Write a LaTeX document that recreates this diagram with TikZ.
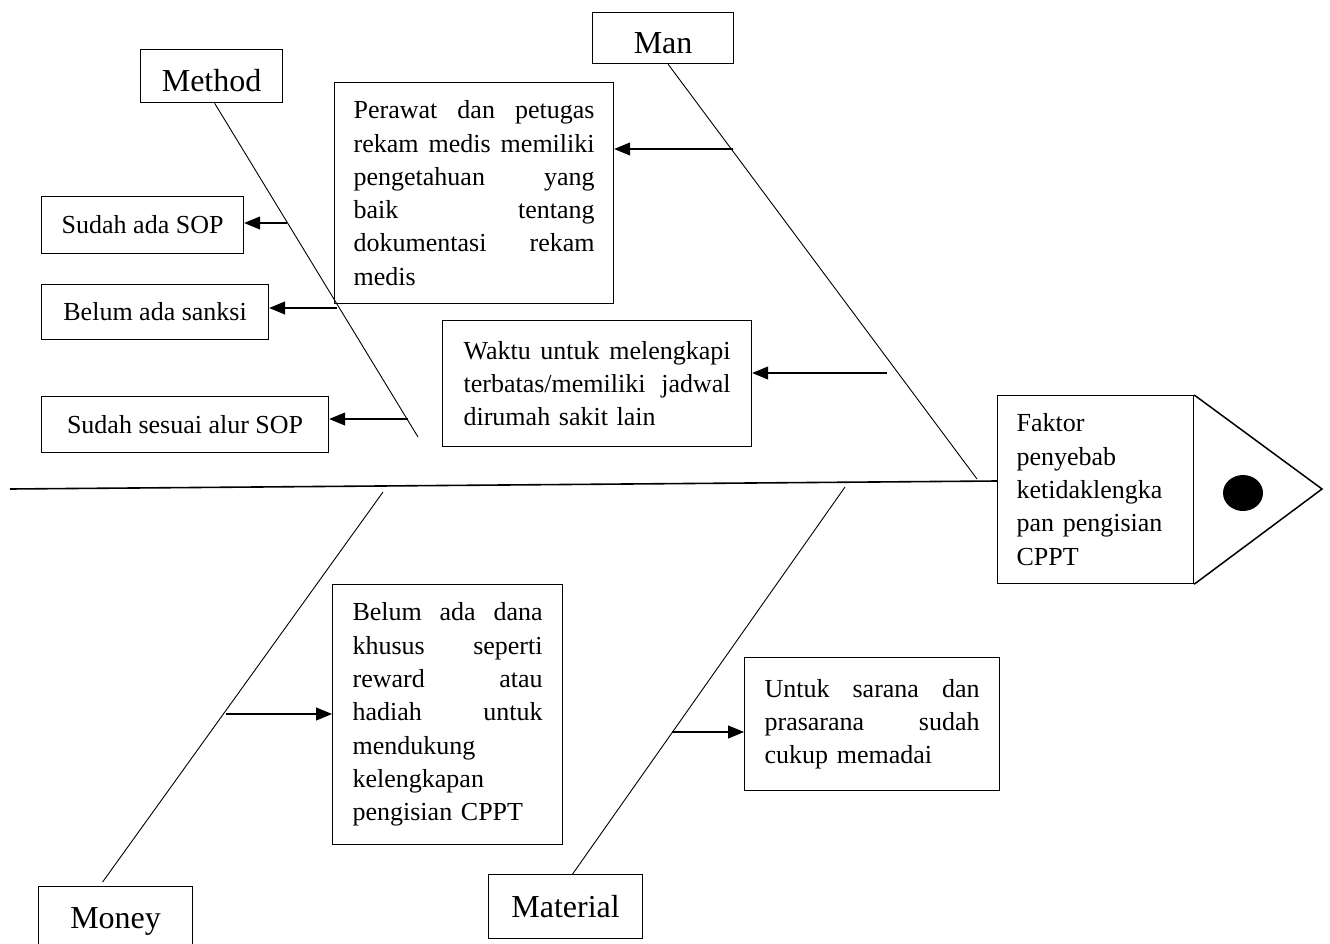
\documentclass[tikz,border=0pt]{standalone}
\usepackage{fontspec}
\setmainfont{Liberation Serif}
\usetikzlibrary{arrows.meta}

% one justified line inside a box
\newlength{\jw}
\newcommand{\jl}[1]{\leavevmode\hbox to \jw{#1}}

\begin{document}
\begin{tikzpicture}[x=1pt,y=-1pt,
	box/.style={draw,line width=1.2pt,anchor=north west,inner ysep=0pt,font=\fontsize{26}{33.3}\selectfont},
	head/.style={box,font=\fontsize{32}{38}\selectfont},
	just/.style={text width=#1,align=left,execute at begin node={\setlength{\jw}{#1}}},
	bone/.style={line width=0.9pt},
	cause/.style={line width=1.1pt,-{Triangle[length=16pt,width=13pt]}}]
	\useasboundingbox (0,0) rectangle (1330,944);

	% Heads of the bones
	\node[head,minimum width=141pt,minimum height=51pt,text height=31pt,text depth=0pt] (man) at (592,12) {Man};
	\node[head,minimum width=142pt,minimum height=53pt,text height=30pt,text depth=0pt] (method) at (140,49) {Method};
	\node[head,minimum width=154pt,minimum height=70pt] (money) at (38,886) {Money};
	\node[head,minimum width=154pt,minimum height=64pt] (material) at (488,874) {Material};

	% Effect
	\node[box,minimum width=196pt,minimum height=188pt,inner xsep=19pt,text width=158pt,align=left] (faktor) at (997,395)
		{Faktor\\ penyebab\\ ketidaklengka\\ pan pengisian\\ CPPT};
	\coordinate (tip) at (1322,489);
	\draw[line width=1.5pt] (faktor.north east) -- (tip) -- (faktor.south east);
	\fill (1243,493) ellipse [x radius=20pt,y radius=18pt];

	% Spine and bones
	\coordinate (spineL) at (10,489);
	\coordinate (spineR) at (997,481);
	\draw[line width=1.6pt] (spineL) -- (spineR);
	\coordinate (manEnd) at (977,479);
	\coordinate (methodEnd) at (418,437);
	\coordinate (moneyTop) at (383,492);
	\coordinate (materialTop) at (845,487);
	\draw[bone] ([xshift=5pt]man.south) -- (manEnd);
	\draw[bone] ([xshift=3pt]method.south) -- (methodEnd);
	\draw[bone] (moneyTop) -- ([xshift=-13pt,yshift=4pt]money.north);
	\draw[bone] (materialTop) -- ([xshift=7pt]material.north);

	% Causes: Man
	\node[box,minimum width=279pt,minimum height=221pt,inner xsep=19pt,just=241pt] (perawat) at (334,82)
		{\jl{Perawat\hfill dan\hfill petugas}\\ \jl{rekam\hfill medis\hfill memiliki}\\ \jl{pengetahuan\hfill yang}\\
		 \jl{baik\hfill tentang}\\ \jl{dokumentasi\hfill rekam}\\ medis};
	\node[box,minimum width=309pt,minimum height=126pt,inner xsep=21pt,just=267pt] (waktu) at (442,320)
		{\jl{Waktu\hfill untuk\hfill melengkapi}\\ \jl{terbatas/memiliki\hfill jadwal}\\ dirumah sakit lain};

	% Causes: Method
	\node[box,minimum width=202pt,minimum height=57pt] (sop) at (41,196) {Sudah ada SOP};
	\node[box,minimum width=227pt,minimum height=55pt] (sanksi) at (41,284) {Belum ada sanksi};
	\node[box,minimum width=287pt,minimum height=56pt] (alur) at (41,396) {Sudah sesuai alur SOP};

	% Causes: Money and Material
	\node[box,minimum width=230pt,minimum height=260pt,inner xsep=20pt,just=190pt] (dana) at (332,584)
		{\jl{Belum\hfill ada\hfill dana}\\ \jl{khusus\hfill seperti}\\ \jl{reward\hfill atau}\\ \jl{hadiah\hfill untuk}\\
		 mendukung\\ kelengkapan\\ pengisian CPPT};
	\node[box,minimum width=255pt,minimum height=133pt,inner xsep=20pt,just=215pt] (sarana) at (744,657)
		{\jl{Untuk\hfill sarana\hfill dan}\\ \jl{prasarana\hfill sudah}\\ cukup memadai};

	% Arrows from the bones
	\coordinate (a1) at (733,149);
	\coordinate (a2) at (887,373);
	\coordinate (a3) at (287,223);
	\coordinate (a4) at (337,308);
	\coordinate (a5) at (408,419);
	\coordinate (a6) at (226,714);
	\coordinate (a7) at (672,732);
	\draw[cause] (a1) -- (a1 -| perawat.east);
	\draw[cause] (a2) -- (a2 -| waktu.east);
	\draw[cause] (a3) -- (a3 -| sop.east);
	\draw[cause] (a4) -- (a4 -| sanksi.east);
	\draw[cause] (a5) -- (a5 -| alur.east);
	\draw[cause] (a6) -- (a6 -| dana.west);
	\draw[cause] (a7) -- (a7 -| sarana.west);
\end{tikzpicture}
\end{document}
